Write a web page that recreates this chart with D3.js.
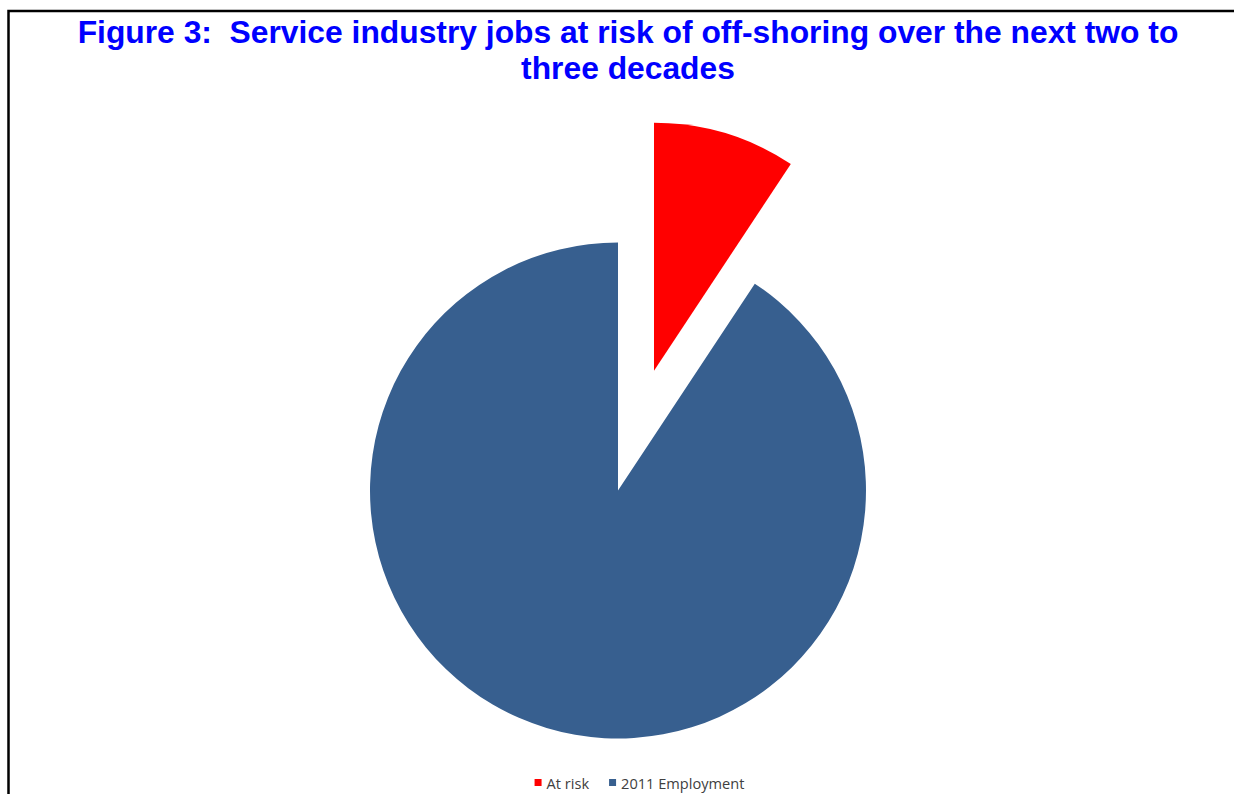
<!DOCTYPE html>
<html>
<head>
<meta charset="utf-8">
<script src="https://cdn.jsdelivr.net/npm/d3@7"></script>
<style>
  html, body { margin: 0; padding: 0; background: #fff; }
  svg { display: block; }
  text { white-space: pre; }
</style>
</head>
<body>
<svg id="chart" width="1234" height="794"></svg>
<script>
// ---- data ----
const categories = ["At risk", "2011 Employment"];
const values = [9.3, 90.7];           // share of service-industry employment (%)
const colors = ["#FF0000", "#375F8F"];
const titleLines = [
  "Figure 3:  Service industry jobs at risk of off-shoring over the next two to",
  "three decades"
];

// ---- layout ----
const W = 1234, H = 794;
const cx = 618, cy = 490.5, R = 248, explode = 125;

const svg = d3.select("#chart");

// frame (top and left border)
svg.append("path")
  .attr("d", `M8.5,${H} L8.5,11 L${W},11`)
  .attr("fill", "none")
  .attr("stroke", "#000")
  .attr("stroke-width", 2.5);

// title
svg.append("g").selectAll("text")
  .data(titleLines)
  .join("text")
  .attr("x", 628)
  .attr("y", (d, i) => 43 + i * 35.5)
  .attr("text-anchor", "middle")
  .attr("font-family", "'Liberation Sans', Arial, sans-serif")
  .attr("font-weight", "bold")
  .attr("font-size", "31.8px")
  .attr("fill", "#0000FF")
  .text(d => d);

// pie
const data = categories.map((c, i) => ({ cat: c, value: values[i], color: colors[i] }));
const pie = d3.pie().sort(null).value(d => d.value);
const arc = d3.arc().innerRadius(0).outerRadius(R);
const arcs = pie(data);

svg.append("g")
  .attr("transform", `translate(${cx},${cy})`)
  .selectAll("path")
  .data(arcs)
  .join("path")
  .attr("d", arc)
  .attr("fill", d => d.data.color)
  .attr("transform", (d, i) => {
    if (i !== 0) return null;
    const mid = (d.startAngle + d.endAngle) / 2;
    return `translate(${explode * Math.sin(mid)},${-explode * Math.cos(mid)})`;
  });

// legend
const legend = svg.append("g");
const items = legend.selectAll("g")
  .data(data)
  .join("g");
items.append("rect")
  .attr("width", 7).attr("height", 7)
  .attr("y", 779)
  .attr("fill", d => d.color);
items.append("text")
  .attr("y", 788.5)
  .attr("font-family", "'Open Sans', 'Noto Sans', sans-serif")
  .attr("font-size", "14.6px")
  .attr("fill", "#404040")
  .text(d => d.cat);

// position legend items sequentially, centered
let widths = [];
items.each(function() {
  widths.push(d3.select(this).select("text").node().getComputedTextLength());
});
const sqW = 7, gapSq = 5, gapItem = 20;
const total = widths.reduce((s, w) => s + sqW + gapSq + w, 0) + gapItem * (widths.length - 1);
let x0 = 639.5 - total / 2;
items.each(function(d, i) {
  const g = d3.select(this);
  g.select("rect").attr("x", x0);
  g.select("text").attr("x", x0 + sqW + gapSq);
  x0 += sqW + gapSq + widths[i] + gapItem;
});
</script>
</body>
</html>
